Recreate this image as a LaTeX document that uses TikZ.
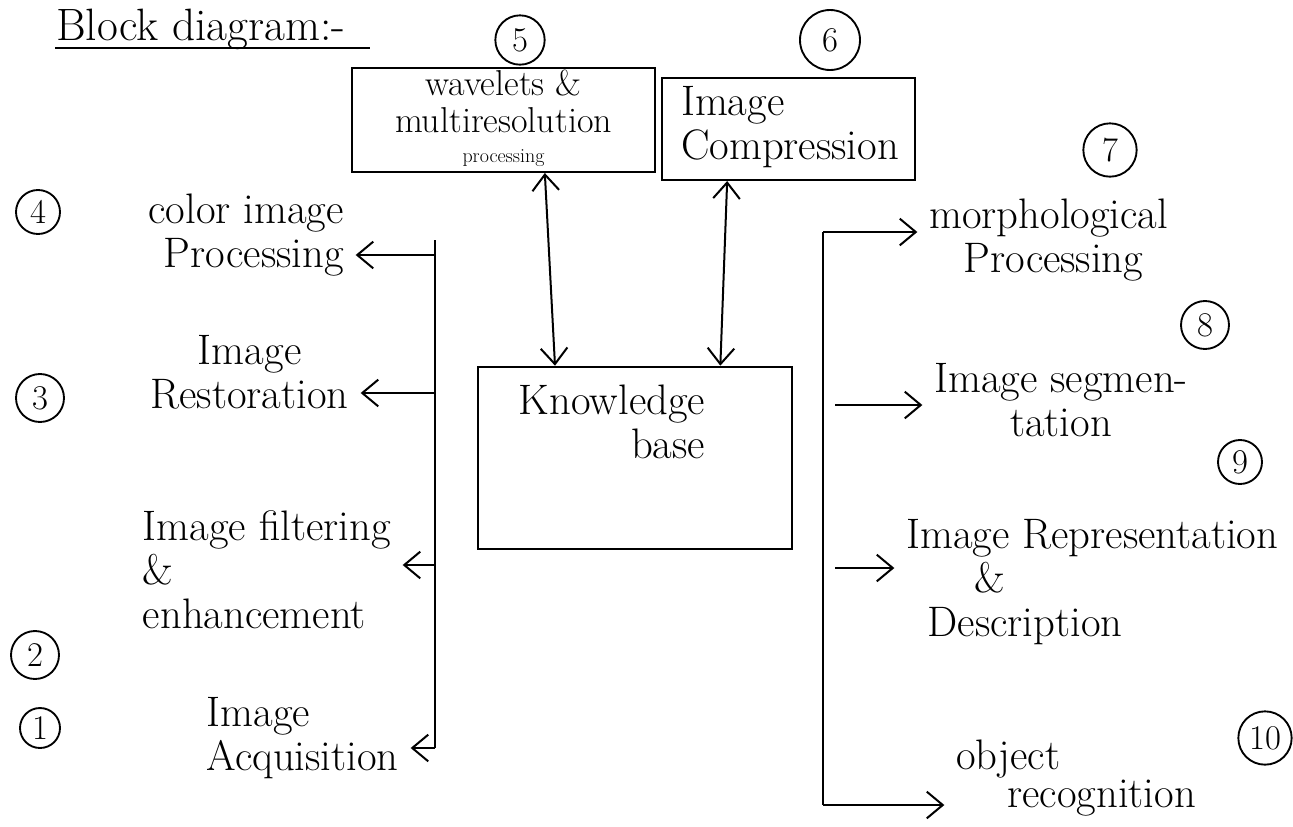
\documentclass[tikz,border=0pt]{standalone}
\usetikzlibrary{arrows.meta}
\begin{document}
\begin{tikzpicture}[x=0.75pt,y=0.75pt,yscale=-1,xscale=1,
  txt/.style={inner sep=0.75pt, font=\fontsize{32}{33}\selectfont},
  boxtxt/.style={inner sep=0.75pt, font=\fontsize{27}{28}\selectfont},
  box/.style={draw, line width=1.5pt, inner sep=4pt},
  num/.style={circle, draw, line width=1.4pt, inner sep=0pt, font=\fontsize{26}{26}\selectfont},
  bus/.style={line width=1.5pt},
  arr/.style={line width=1.5pt, -{Straight Barb[length=12pt,width=20pt]}, shorten >=8pt},
  darr/.style={line width=1.5pt, {Straight Barb[length=12pt,width=20pt]}-{Straight Barb[length=12pt,width=20pt]}}]
\useasboundingbox (0,0) rectangle (1293,826);

% Title
\node[txt, anchor=base west, font=\fontsize{34}{34}\selectfont] (title) at (55,40) {Block diagram:-};
\draw[bus] ([yshift=6pt]title.base west) -- ([xshift=18pt,yshift=6pt]title.base east);

% Top boxes
\node[box, minimum width=227pt, minimum height=78pt] (wav) at (503.5,120) {};
\node[boxtxt, align=center] (wavtxt) at (503.5,118) {wavelets \&\\multiresolution\\[-6pt]{\fontsize{15}{15}\selectfont processing}};
\node[box, minimum width=190pt, minimum height=76.5pt] (comp) at (788.5,129) {};
\node[txt, align=left] (comptxt) at (790,127) {Image\\Compression};
\node[num, minimum size=37pt] (n5) at (520,40) {5};
\node[num, minimum size=45pt] (n6) at (830,40) {6};

% Knowledge base
\node[box, minimum width=235.5pt, minimum height=137pt] (kb) at (635,458) {};
\node[txt, align=right] (kbtxt) at (612,422) {Knowledge\\base};
\draw[darr] ([xshift=31pt]wav.south) -- ([xshift=-60pt]kb.north);
\draw[darr] ([xshift=-46pt]comp.south) -- ([xshift=64pt]kb.north);

% Left side
\node[num, minimum size=33pt] (n4) at (38,212) {4};
\node[num, minimum size=36pt] (n3) at (40,398) {3};
\node[num, minimum size=36pt] (n2) at (35,655) {2};
\node[num, minimum size=30pt] (n1) at (40,728) {1};
\node[txt, anchor=east, align=right] (colr) at (345,235) {color image\\Processing};
\node[txt, anchor=east, align=center] (rest) at (350,372) {Image\\Restoration};
\node[txt, anchor=east, align=left] (filt) at (392,570) {Image filtering\\\&\\enhancement};
\node[txt, anchor=east, align=left] (acq) at (400,738) {Image\\Acquisition};

\coordinate (lbt) at (435,240);
\coordinate (lb1) at (435,255);
\coordinate (lb2) at (435,393);
\coordinate (lb3) at (435,565);
\coordinate (lbb) at (435,748);
\draw[bus] (lbt) -- (lbb);
\draw[arr] (lb1) -- (lb1 -| colr.east);
\draw[arr] (lb2) -- (lb2 -| rest.east);
\draw[arr] (lb3) -- (lb3 -| filt.east);
\draw[arr] (lbb) -- (lbb -| acq.east);

% Right side
\node[num, minimum size=40pt] (n7) at (1110,150) {7};
\node[num, minimum size=36pt] (n8) at (1205,325) {8};
\node[num, minimum size=33pt] (n9) at (1240,462) {9};
\node[num, minimum size=40pt] (n10) at (1265,738) {10};
\node[txt, anchor=west, align=left] (morph) at (928,240) {morphological\\\hspace*{0.8em}Processing};
\node[txt, anchor=west, align=center] (seg) at (933,400) {Image segmen-\\tation};
\node[txt, anchor=west, align=left] (repr) at (905,582) {Image Representation\\\hspace*{1.6em}\&\\\hspace*{0.5em}Description};
\node[txt, anchor=west, align=left, font=\fontsize{32}{28}\selectfont] (obj) at (955,778) {object\\\hspace*{1.2em}recognition};

\coordinate (rbt) at (823,232);
\coordinate (rb2) at (835,405);
\coordinate (rb3) at (835,568);
\coordinate (rbb) at (823,805);
\draw[bus] (rbt) -- (rbb);
\draw[arr] (rbt) -- (rbt -| morph.west);
\draw[arr] (rb2) -- (rb2 -| seg.west);
\draw[arr] (rb3) -- (rb3 -| repr.west);
\draw[arr] (rbb) -- (rbb -| obj.west);

\end{tikzpicture}
\end{document}
